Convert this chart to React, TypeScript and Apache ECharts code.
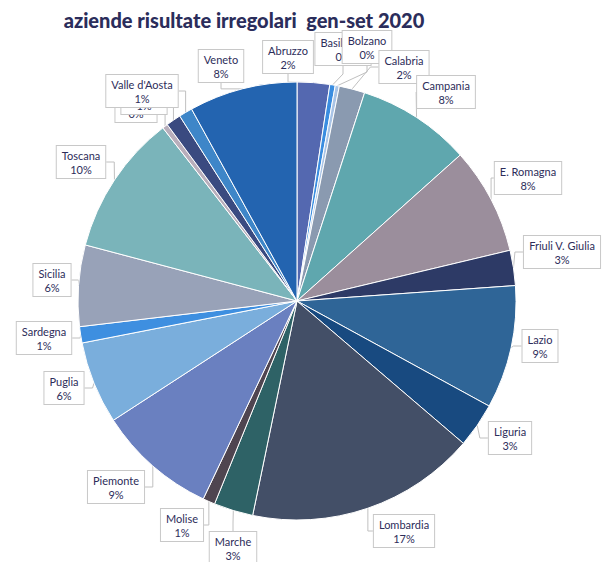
import React, { useEffect, useRef } from "react";
import * as echarts from "echarts";

const regions = [
  "Abruzzo", "Basilicata", "Bolzano", "Calabria", "Campania", "E. Romagna",
  "Friuli V. Giulia", "Lazio", "Liguria", "Lombardia", "Marche", "Molise",
  "Piemonte", "Puglia", "Sardegna", "Sicilia", "Toscana", "Trento", "Umbria",
  "Valle d'Aosta", "Veneto",
];
const shares = [
  2.4, 0.4, 0.3, 1.9, 8.4, 7.9, 2.6, 9.1, 3.3, 17.0, 2.9, 0.9, 8.8, 6.1, 1.2,
  6.0, 10.4, 0.4, 1.1, 1.0, 8.0,
];
const colors = [
  "#5468b0", "#3a8de0", "#a9c4e6", "#8a9ab0", "#5fa7ae", "#9b8e9c", "#2d3a66",
  "#2f6597", "#184a80", "#434f67", "#2e6266", "#4f4550", "#6a80c0", "#7aaedc",
  "#3e8fe0", "#98a2b8", "#7ab4ba", "#b8aebb", "#3a4a80", "#3e86c8", "#2364b0",
];

// label box centres (layout, not data)
const labelCentres: [number, number][] = [
  [288, 57], [343, 49], [367, 47], [404, 67], [446, 92], [528, 178],
  [562, 252], [540, 346], [510, 438], [404, 531], [233, 548], [182, 525],
  [116, 487], [64, 388], [44, 338], [52, 280], [81, 162], [136, 106],
  [144, 98], [142, 91], [221, 66],
];

export default function App() {
  const ref = useRef<HTMLDivElement>(null);
  useEffect(() => {
    if (!ref.current) return;
    const chart = echarts.init(ref.current, undefined, { renderer: "svg" });
    chart.setOption({
      animation: false,
      backgroundColor: "#ffffff",
      title: {
        text: "aziende risultate irregolari  gen-set 2020",
        left: 239,
        top: 5,
        textAlign: "center",
        textStyle: {
          fontFamily: "Lato",
          fontWeight: 900,
          fontSize: 20,
          color: "#2b2d5b",
        },
      },
      series: [
        {
          type: "pie",
          center: [297, 301],
          radius: [0, 219],
          startAngle: 90,
          clockwise: true,
          avoidLabelOverlap: false,
          data: regions.map((name, i) => ({
            name,
            value: shares[i],
            itemStyle: { color: colors[i] },
          })),
          itemStyle: { borderColor: "#ffffff", borderWidth: 1 },
          label: {
            show: true,
            position: "outside",
            formatter: (p: any) => `${p.name}\n${Math.round(p.percent)}%`,
            fontFamily: "Lato",
            fontSize: 11,
            lineHeight: 14,
            color: "#2d2d5a",
            align: "center",
            backgroundColor: "#ffffff",
            borderColor: "#c8c8c8",
            borderWidth: 1,
            padding: [2, 5],
          },
          labelLine: {
            show: true,
            length: 12,
            length2: 8,
            lineStyle: { color: "#c0c0c0", width: 1 },
          },
          labelLayout: (p: any) => {
            const c = labelCentres[p.dataIndex];
            return {
              x: c[0],
              y: c[1],
              align: "center",
              verticalAlign: "middle",
              hideOverlap: false,
              moveOverlap: false,
            };
          },
        },
      ],
    });
    return () => chart.dispose();
  }, []);
  return (
    <div
      ref={ref}
      style={{ position: "fixed", left: 0, top: 0, width: 613, height: 562 }}
    />
  );
}
